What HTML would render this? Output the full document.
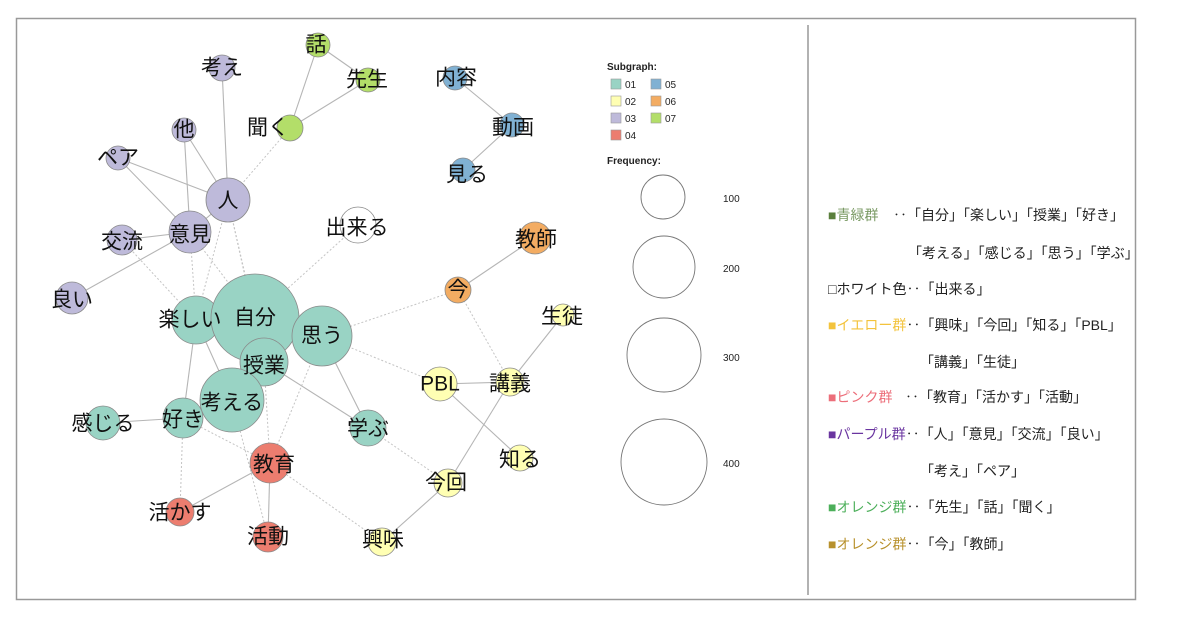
<!DOCTYPE html>
<html><head><meta charset="utf-8"><style>
body{margin:0;background:#fff;}
svg{display:block;font-family:"Liberation Sans","Noto Sans CJK JP",sans-serif;}
.n{stroke:#8a8a8a;stroke-width:0.8;}
.l{font-size:21px;fill:#111;text-anchor:middle;dominant-baseline:central;}
.e{stroke:#b5b5b5;stroke-width:1.1;fill:none;}
.d{stroke:#c4c4c4;stroke-width:1;stroke-dasharray:2,2;fill:none;}
.r{font-size:14px;fill:#222;}
</style></head><body>
<svg width="1200" height="625" viewBox="0 0 1200 625">
<rect x="16.5" y="18.5" width="1119" height="581" fill="#fff" stroke="#999" stroke-width="1.5"/>
<line x1="808" y1="25" x2="808" y2="595" stroke="#999" stroke-width="1.5"/>
<g class="e">
<line x1="318" y1="45" x2="368" y2="80"/><line x1="318" y1="45" x2="290" y2="128"/><line x1="368" y1="80" x2="290" y2="128"/>
<line x1="222" y1="68" x2="228" y2="200"/><line x1="184" y1="130" x2="228" y2="200"/><line x1="184" y1="130" x2="190" y2="232"/>
<line x1="118" y1="158" x2="228" y2="200"/><line x1="118" y1="158" x2="190" y2="232"/><line x1="228" y1="200" x2="190" y2="232"/>
<line x1="122" y1="240" x2="190" y2="232"/><line x1="72" y1="298" x2="190" y2="232"/>
<line x1="455" y1="78" x2="512" y2="125"/><line x1="512" y1="125" x2="463" y2="170"/>
<line x1="535" y1="238" x2="458" y2="290"/>
<line x1="196" y1="320" x2="183" y2="418"/><line x1="196" y1="320" x2="232" y2="400"/><line x1="255" y1="318" x2="232" y2="400"/>
<line x1="264" y1="362" x2="368" y2="428"/><line x1="322" y1="336" x2="368" y2="428"/>
<line x1="183" y1="418" x2="103" y2="423"/>
<line x1="270" y1="463" x2="180" y2="512"/><line x1="270" y1="463" x2="268" y2="537"/>
<line x1="440" y1="384" x2="510" y2="382"/><line x1="440" y1="384" x2="520" y2="458"/>
<line x1="510" y1="382" x2="563" y2="315"/><line x1="510" y1="382" x2="448" y2="483"/>
<line x1="448" y1="483" x2="382" y2="542"/>
</g>
<g class="d">
<line x1="228" y1="200" x2="290" y2="128"/><line x1="228" y1="200" x2="255" y2="318"/><line x1="228" y1="200" x2="196" y2="320"/>
<line x1="190" y1="232" x2="196" y2="320"/><line x1="190" y1="232" x2="255" y2="318"/><line x1="122" y1="240" x2="196" y2="320"/>
<line x1="358" y1="225" x2="255" y2="318"/><line x1="458" y1="290" x2="322" y2="336"/><line x1="458" y1="290" x2="510" y2="382"/>
<line x1="322" y1="336" x2="440" y2="384"/><line x1="368" y1="428" x2="448" y2="483"/><line x1="270" y1="463" x2="382" y2="542"/>
<line x1="183" y1="418" x2="180" y2="512"/><line x1="183" y1="418" x2="270" y2="463"/><line x1="232" y1="400" x2="268" y2="537"/>
<line x1="322" y1="336" x2="270" y2="463"/><line x1="264" y1="362" x2="270" y2="463"/><line x1="228" y1="200" x2="264" y2="362"/>
</g>
<g class="n">
<circle cx="318" cy="45" r="12" fill="#b3de69"/><circle cx="368" cy="80" r="12" fill="#b3de69"/><circle cx="290" cy="128" r="13" fill="#b3de69"/>
<circle cx="222" cy="68" r="13" fill="#bebada"/><circle cx="184" cy="130" r="12" fill="#bebada"/><circle cx="118" cy="158" r="12" fill="#bebada"/>
<circle cx="228" cy="200" r="22" fill="#bebada"/><circle cx="190" cy="232" r="21" fill="#bebada"/><circle cx="122" cy="240" r="15" fill="#bebada"/><circle cx="72" cy="298" r="16" fill="#bebada"/>
<circle cx="455" cy="78" r="12" fill="#80b1d3"/><circle cx="512" cy="125" r="12" fill="#80b1d3"/><circle cx="463" cy="170" r="12" fill="#80b1d3"/>
<circle cx="358" cy="225" r="18" fill="#fff"/>
<circle cx="535" cy="238" r="16" fill="#f3ac62"/><circle cx="458" cy="290" r="13" fill="#f3ac62"/>
<circle cx="563" cy="315" r="11" fill="#ffffb3"/>
<circle cx="196" cy="320" r="24" fill="#99d3c4"/><circle cx="255" cy="318" r="44" fill="#99d3c4"/><circle cx="322" cy="336" r="30" fill="#99d3c4"/>
<circle cx="264" cy="362" r="24" fill="#99d3c4"/><circle cx="232" cy="400" r="32" fill="#99d3c4"/><circle cx="183" cy="418" r="20" fill="#99d3c4"/>
<circle cx="103" cy="423" r="17" fill="#99d3c4"/><circle cx="368" cy="428" r="18" fill="#99d3c4"/>
<circle cx="440" cy="384" r="17" fill="#ffffb3"/><circle cx="510" cy="382" r="14" fill="#ffffb3"/><circle cx="520" cy="458" r="13" fill="#ffffb3"/>
<circle cx="448" cy="483" r="14" fill="#ffffb3"/><circle cx="382" cy="542" r="14" fill="#ffffb3"/>
<circle cx="270" cy="463" r="20" fill="#ec7d6f"/><circle cx="180" cy="512" r="14" fill="#ec7d6f"/><circle cx="268" cy="537" r="15" fill="#ec7d6f"/>
</g>
<g class="l">
<text x="316" y="45">話</text><text x="367" y="80">先生</text><text x="268" y="128">聞く</text>
<text x="222" y="68">考え</text><text x="184" y="130">他</text><text x="118" y="158">ペア</text>
<text x="228" y="201">人</text><text x="190" y="235">意見</text><text x="122" y="242">交流</text><text x="72" y="300">良い</text>
<text x="456" y="78">内容</text><text x="513" y="128">動画</text><text x="467" y="175">見る</text>
<text x="357" y="228">出来る</text><text x="536" y="240">教師</text><text x="458" y="290">今</text><text x="562" y="317">生徒</text>
<text x="190" y="320">楽しい</text><text x="255" y="318">自分</text><text x="322" y="336">思う</text><text x="264" y="366">授業</text>
<text x="232" y="403">考える</text><text x="183" y="420">好き</text><text x="103" y="424">感じる</text><text x="368" y="429">学ぶ</text>
<text x="440" y="384">PBL</text><text x="510" y="384">講義</text><text x="520" y="460">知る</text><text x="446" y="483">今回</text><text x="383" y="540">興味</text>
<text x="274" y="465">教育</text><text x="180" y="513">活かす</text><text x="268" y="537">活動</text>
</g>
<g font-size="10" fill="#222">
<text x="607" y="70" font-weight="bold">Subgraph:</text>
<g stroke="#999" stroke-width="0.6">
<rect x="611" y="79" width="10" height="10" fill="#99d3c4"/><rect x="611" y="96" width="10" height="10" fill="#ffffb3"/>
<rect x="611" y="113" width="10" height="10" fill="#bebada"/><rect x="611" y="130" width="10" height="10" fill="#ec7d6f"/>
<rect x="651" y="79" width="10" height="10" fill="#80b1d3"/><rect x="651" y="96" width="10" height="10" fill="#f3ac62"/>
<rect x="651" y="113" width="10" height="10" fill="#b3de69"/>
</g>
<text x="625" y="88">01</text><text x="625" y="105">02</text><text x="625" y="122">03</text><text x="625" y="139">04</text>
<text x="665" y="88">05</text><text x="665" y="105">06</text><text x="665" y="122">07</text>
<text x="607" y="164" font-weight="bold">Frequency:</text>
<g fill="none" stroke="#777" stroke-width="0.9">
<circle cx="663" cy="197" r="22"/><circle cx="664" cy="267" r="31"/><circle cx="664" cy="355" r="37"/><circle cx="664" cy="462" r="43"/>
</g>
<text x="723" y="202">100</text><text x="723" y="272">200</text><text x="723" y="361">300</text><text x="723" y="467">400</text>
</g>
<g class="r">
<text x="828" y="220"><tspan fill="#5a7f3c">■</tspan><tspan fill="#7a9a64">青緑群</tspan></text><text x="893" y="220">‥「自分」「楽しい」「授業」「好き」</text>
<text x="908" y="258">「考える」「感じる」「思う」「学ぶ」</text>
<text x="828" y="294">□ホワイト色‥「出来る」</text>
<text x="828" y="330"><tspan fill="#f3c33c">■イエロー群</tspan>‥「興味」「今回」「知る」「PBL」</text>
<text x="920" y="367">「講義」「生徒」</text>
<text x="828" y="402"><tspan fill="#ec6e7a">■ピンク群</tspan></text><text x="905" y="402">‥「教育」「活かす」「活動」</text>
<text x="828" y="439"><tspan fill="#6a35a0">■パープル群</tspan>‥「人」「意見」「交流」「良い」</text>
<text x="920" y="476">「考え」「ペア」</text>
<text x="828" y="512"><tspan fill="#4caf5a">■オレンジ群</tspan>‥「先生」「話」「聞く」</text>
<text x="828" y="549"><tspan fill="#b8912c">■オレンジ群</tspan>‥「今」「教師」</text>
</g>
</svg>
</body></html>
